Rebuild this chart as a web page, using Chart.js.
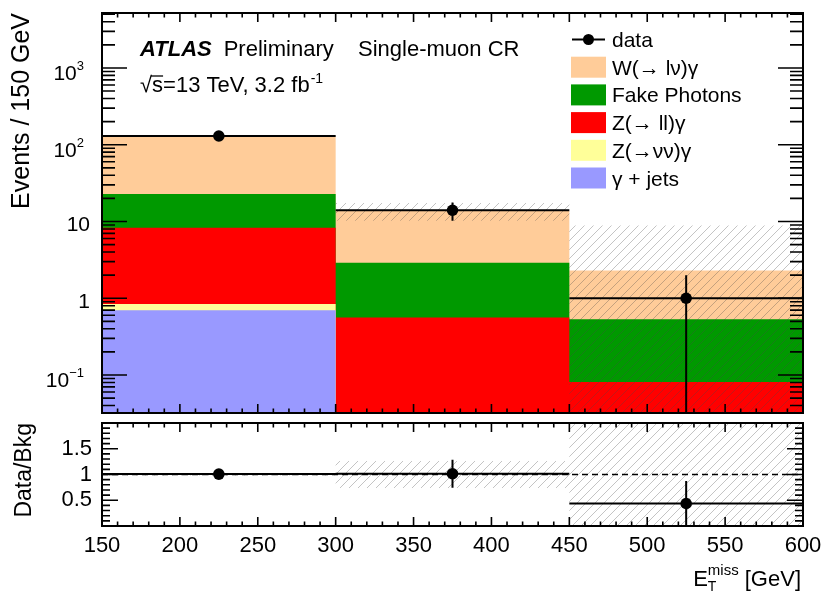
<!DOCTYPE html>
<html>
<head>
<meta charset="utf-8">
<title>Single-muon CR — missing transverse energy</title>
<script src="https://cdn.jsdelivr.net/npm/chart.js@4.4.0/dist/chart.umd.min.js"></script>
<style>
  html, body { margin: 0; padding: 0; background: #fff; }
  #wrap { position: relative; width: 822px; height: 592px; }
  #wrap canvas { position: absolute; left: 0; top: 0; }
</style>
</head>
<body>
<div id="wrap">
  <canvas id="main" width="822" height="592"></canvas>
  <canvas id="ratio" width="822" height="592"></canvas>
</div>
<script>
// ---- binning and tick labels -------------------------------------------
const binEdges = [150, 300, 450, 600];
const xTickValues = [150, 200, 250, 300, 350, 400, 450, 500, 550, 600];
const xTickLabels = ['150', '200', '250', '300', '350', '400', '450', '500', '550', '600'];
const logTickValues = [0.1, 1, 10, 100, 1000];
const logTickLabels = ['10^−1', '1', '10', '10^2', '10^3'];
const ratioTickValues = [0.5, 1, 1.5];
const ratioTickLabels = ['0.5', '1', '1.5'];

// ---- background components (events per bin) ----------------------------
const gammaJets   = [0.70, 0.004, 0.002];
const zNuNuGamma  = [0.14, 0.006, 0.003];
const zLLGamma    = [7.46, 0.55, 0.076];
const fakePhotons = [14.5, 2.34, 0.45];
const wLnuGamma   = [106.2, 10.9, 1.76];

// total background uncertainty per bin (absolute)
const bkgUncertainty = [2.5, 3.6, 6.6];

// ---- observed data ------------------------------------------------------
const dataCounts = [130, 14, 1];
const dataErrors = [11.4, 3.74, 1.0];

// ---- axis ranges --------------------------------------------------------
const yMin = 0.032, yMax = 5200;
const ratioMin = 0, ratioMax = 2;

// ---- styling -------------------------------------------------------------
const FONT = '"Liberation Sans", Arial, Helvetica, sans-serif';
const fnt = (size, style) => (style ? style + ' ' : '') + size + 'px ' + FONT;
Chart.defaults.font.family = FONT;
Chart.defaults.color = '#000';

const components = [
  { label: 'γ + jets',     values: gammaJets,   color: '#9999ff' },
  { label: 'Z(→νν)γ',      values: zNuNuGamma,  color: '#ffff99' },
  { label: 'Z(→ ll)γ',     values: zLLGamma,    color: '#ff0000' },
  { label: 'Fake Photons', values: fakePhotons, color: '#009900' },
  { label: 'W(→ lν)γ',     values: wLnuGamma,   color: '#ffcc99' }
];

// ---- derived series -----------------------------------------------------
const centers = binEdges.slice(0, -1).map((e, i) => (e + binEdges[i + 1]) / 2);
let running = binEdges.slice(0, -1).map(() => 0);
const cumulative = components.map(c => {
  running = running.map((r, i) => r + c.values[i]);
  return running.slice();
});
const totalBkg = running.slice();

function stepSeries(vals) {
  const pts = vals.map((v, i) => ({ x: binEdges[i], y: v }));
  pts.push({ x: binEdges[binEdges.length - 1], y: vals[vals.length - 1] });
  return pts;
}
function hSegments(ys) {
  const pts = [];
  ys.forEach((y, i) => pts.push({ x: binEdges[i], y }, { x: binEdges[i + 1], y }, { x: binEdges[i + 1], y: null }));
  return pts;
}
function vSegments(lo, hi) {
  const pts = [];
  centers.forEach((c, i) => pts.push({ x: c, y: lo[i] }, { x: c, y: hi[i] }, { x: c, y: null }));
  return pts;
}

function hatchPattern(ctx) {
  const s = 9;
  const tile = document.createElement('canvas');
  tile.width = s; tile.height = s;
  const g = tile.getContext('2d');
  g.strokeStyle = 'rgba(70,70,70,0.32)';
  g.lineWidth = 1;
  g.beginPath();
  g.moveTo(0, s); g.lineTo(s, 0);
  g.moveTo(-1, 1); g.lineTo(1, -1);
  g.moveTo(s - 1, s + 1); g.lineTo(s + 1, s - 1);
  g.stroke();
  return ctx.createPattern(tile, 'repeat');
}

// inward ROOT-style tick marks plus the frame
function drawFrame(chart, t) {
  const { ctx, chartArea: a } = chart;
  const sx = chart.scales.x, sy = chart.scales.y;
  ctx.save();
  ctx.strokeStyle = '#000';
  ctx.lineWidth = 1.6;
  ctx.beginPath();
  const xt = (vals, L) => vals.forEach(v => {
    const p = sx.getPixelForValue(v);
    ctx.moveTo(p, a.bottom); ctx.lineTo(p, a.bottom - L);
    ctx.moveTo(p, a.top); ctx.lineTo(p, a.top + L);
  });
  const yt = (vals, L) => vals.forEach(v => {
    const p = sy.getPixelForValue(v);
    if (p < a.top - 0.5 || p > a.bottom + 0.5) return;
    ctx.moveTo(a.left, p); ctx.lineTo(a.left + L, p);
    ctx.moveTo(a.right, p); ctx.lineTo(a.right - L, p);
  });
  xt(t.xMajor, t.xMajorLen); xt(t.xMinor, t.xMinorLen);
  yt(t.yMajor, t.yMajorLen); yt(t.yMinor, t.yMinorLen);
  ctx.stroke();
  ctx.lineWidth = 2;
  ctx.strokeRect(a.left, a.top, a.right - a.left, a.bottom - a.top);
  ctx.restore();
}

const xMinorTicks = [];
for (let v = binEdges[0]; v <= binEdges[binEdges.length - 1]; v += 10) xMinorTicks.push(v);
const logMinorTicks = [];
for (let d = -2; d <= 3; d++) for (let k = 2; k <= 9; k++) logMinorTicks.push(k * Math.pow(10, d));
const ratioMajorTicks = [0, 0.5, 1, 1.5, 2];
const ratioMinorTicks = [];
for (let i = 0; i <= 20; i++) ratioMinorTicks.push(i / 10);

// ---- upper panel ---------------------------------------------------------
const mainCanvas = document.getElementById('main');
const mainCtx = mainCanvas.getContext('2d');
const hatchMain = hatchPattern(mainCtx);

const stackDatasets = components.map((c, k) => ({
  label: c.label,
  data: stepSeries(cumulative[k]),
  stepped: 'before',
  fill: 'start',
  backgroundColor: c.color,
  borderWidth: 0,
  pointRadius: 0,
  order: 10 + k
}));

const bandHi = totalBkg.map((t, i) => t + bkgUncertainty[i]);
const bandLo = totalBkg.map((t, i) => Math.max(t - bkgUncertainty[i], yMin));
const errLo = dataCounts.map((d, i) => Math.max(d - dataErrors[i], yMin));
const errHi = dataCounts.map((d, i) => d + dataErrors[i]);

const mainDecor = {
  id: 'mainDecor',
  afterDraw(chart) {
    const { ctx } = chart;
    const sy = chart.scales.y;
    drawFrame(chart, {
      xMajor: xTickValues, xMajorLen: 9, xMinor: xMinorTicks, xMinorLen: 4.5,
      yMajor: logTickValues, yMajorLen: 25, yMinor: logMinorTicks, yMinorLen: 13
    });
    ctx.save();
    ctx.fillStyle = '#000';
    ctx.textBaseline = 'alphabetic';
    // log-axis labels with raised exponents
    logTickValues.forEach((v, i) => {
      const p = sy.getPixelForValue(v);
      const parts = logTickLabels[i].split('^');
      if (parts.length === 1) {
        ctx.font = fnt(21); ctx.textAlign = 'right';
        ctx.fillText(parts[0], 90, p + 10);
      } else {
        ctx.font = fnt(13); ctx.textAlign = 'right';
        const we = ctx.measureText(parts[1]).width;
        ctx.fillText(parts[1], 84, p + 2);
        ctx.font = fnt(21);
        ctx.fillText(parts[0], 84 - we, p + 12);
      }
    });
    // experiment label
    ctx.textAlign = 'left';
    ctx.font = fnt(22, 'italic bold');
    ctx.fillText('ATLAS', 140, 56);
    const wA = ctx.measureText('ATLAS').width;
    ctx.font = fnt(22);
    ctx.fillText('Preliminary', 140 + wA + 12, 56);
    ctx.fillText('Single-muon CR', 358, 56);
    // centre-of-mass energy and luminosity
    let x = 140;
    const base = 92;
    ctx.font = fnt(22);
    ctx.fillText('√', x, base);
    x += ctx.measureText('√').width;
    const ws = ctx.measureText('s').width;
    ctx.fillText('s', x, base);
    ctx.lineWidth = 1.3;
    ctx.beginPath(); ctx.moveTo(x - 1, base - 16); ctx.lineTo(x + ws, base - 16); ctx.stroke();
    x += ws;
    const mainTxt = '=13 TeV, 3.2 fb';
    ctx.fillText(mainTxt, x, base);
    x += ctx.measureText(mainTxt).width;
    ctx.font = fnt(14);
    ctx.fillText('-1', x + 1, base - 9);
    // legend
    const lx = 571, lw = 35, lh = 21, tx = 612;
    const rows = [{ label: 'data' }].concat(components.slice().reverse());
    rows.forEach((r, i) => {
      const cy = 39.5 + i * 27.7;
      if (!r.color) {
        ctx.lineWidth = 2;
        ctx.beginPath(); ctx.moveTo(lx + 1, cy); ctx.lineTo(lx + lw - 1, cy); ctx.stroke();
        ctx.beginPath(); ctx.arc(lx + lw / 2, cy, 5.5, 0, Math.PI * 2); ctx.fill();
      } else {
        ctx.fillStyle = r.color;
        ctx.fillRect(lx, cy - lh / 2, lw, lh);
        ctx.fillStyle = '#000';
      }
      ctx.font = fnt(21);
      ctx.fillText(r.label, tx, cy + 7.5);
    });
    ctx.restore();
  }
};

new Chart(mainCanvas, {
  type: 'line',
  data: {
    datasets: stackDatasets.concat([
      { label: 'bkg unc. up', data: stepSeries(bandHi), stepped: 'before', fill: '+1',
        backgroundColor: hatchMain, borderWidth: 0, pointRadius: 0, order: 3 },
      { label: 'bkg unc. down', data: stepSeries(bandLo), stepped: 'before', fill: false,
        borderWidth: 0, pointRadius: 0, order: 4 },
      { label: 'data x', data: hSegments(dataCounts), borderColor: '#000', borderWidth: 2,
        pointRadius: 0, spanGaps: false, fill: false, order: 1 },
      { label: 'data y', data: vSegments(errLo, errHi), borderColor: '#000', borderWidth: 2,
        pointRadius: 0, spanGaps: false, fill: false, order: 1 },
      { label: 'data', data: dataCounts.map((d, i) => ({ x: centers[i], y: d })), showLine: false,
        pointRadius: 5.8, pointBackgroundColor: '#000', pointBorderWidth: 0, order: 0 }
    ])
  },
  options: {
    responsive: false,
    animation: false,
    events: [],
    layout: { padding: { left: 0, top: 13, right: 19, bottom: 179 } },
    plugins: { legend: { display: false }, tooltip: { enabled: false } },
    elements: { line: { tension: 0 } },
    scales: {
      x: { type: 'linear', min: binEdges[0], max: binEdges[binEdges.length - 1], display: false },
      y: {
        type: 'logarithmic', min: yMin, max: yMax,
        grid: { display: false, drawTicks: false }, border: { display: false },
        ticks: { display: false },
        title: { display: true, text: 'Events / 150 GeV', align: 'end', color: '#000',
                 font: { size: 25 }, padding: { top: 7, bottom: 0 } },
        afterFit(s) { s.width = 102; }
      }
    }
  },
  plugins: [mainDecor]
});

// ---- ratio panel -----------------------------------------------------------
const ratioCanvas = document.getElementById('ratio');
const ratioCtx = ratioCanvas.getContext('2d');
const hatchRatio = hatchPattern(ratioCtx);

const ratioVals = dataCounts.map((d, i) => d / totalBkg[i]);
const ratioLo = dataErrors.map((e, i) => Math.max(ratioVals[i] - e / totalBkg[i], ratioMin));
const ratioHi = dataErrors.map((e, i) => ratioVals[i] + e / totalBkg[i]);
const relHi = bkgUncertainty.map((u, i) => 1 + u / totalBkg[i]);
const relLo = bkgUncertainty.map((u, i) => Math.max(1 - u / totalBkg[i], ratioMin));

const ratioDecor = {
  id: 'ratioDecor',
  afterDraw(chart) {
    const { ctx, chartArea: a } = chart;
    drawFrame(chart, {
      xMajor: xTickValues, xMajorLen: 9, xMinor: xMinorTicks, xMinorLen: 4.5,
      yMajor: ratioMajorTicks, yMajorLen: 16, yMinor: ratioMinorTicks, yMinorLen: 8
    });
    // axis title E_T^miss [GeV], right-aligned to the frame
    ctx.save();
    ctx.fillStyle = '#000';
    ctx.textAlign = 'left';
    ctx.textBaseline = 'alphabetic';
    ctx.font = fnt(22); const wE = ctx.measureText('E').width;
    const rest = ' [GeV]'; const wR = ctx.measureText(rest).width;
    ctx.font = fnt(15); const wS = ctx.measureText('miss').width;
    const x0 = a.right - (wE + wS + wR) - 2;
    const base = 586;
    ctx.font = fnt(22); ctx.fillText('E', x0, base);
    ctx.font = fnt(15); ctx.fillText('miss', x0 + wE, base - 11);
    ctx.font = fnt(14); ctx.fillText('T', x0 + wE, base + 5);
    ctx.font = fnt(22); ctx.fillText(rest, x0 + wE + wS, base);
    ctx.restore();
  }
};

new Chart(ratioCanvas, {
  type: 'line',
  data: {
    datasets: [
      { label: 'rel. unc. up', data: stepSeries(relHi), stepped: 'before', fill: '+1',
        backgroundColor: hatchRatio, borderWidth: 0, pointRadius: 0, order: 4 },
      { label: 'rel. unc. down', data: stepSeries(relLo), stepped: 'before', fill: false,
        borderWidth: 0, pointRadius: 0, order: 5 },
      { label: 'unity', data: [{ x: binEdges[0], y: 1 }, { x: binEdges[binEdges.length - 1], y: 1 }],
        borderColor: '#000', borderWidth: 1.5, borderDash: [6, 4], pointRadius: 0, fill: false, order: 2 },
      { label: 'ratio x', data: hSegments(ratioVals), borderColor: '#000', borderWidth: 2,
        pointRadius: 0, spanGaps: false, fill: false, order: 1 },
      { label: 'ratio y', data: vSegments(ratioLo, ratioHi), borderColor: '#000', borderWidth: 2,
        pointRadius: 0, spanGaps: false, fill: false, order: 1 },
      { label: 'ratio', data: ratioVals.map((r, i) => ({ x: centers[i], y: r })), showLine: false,
        pointRadius: 5.8, pointBackgroundColor: '#000', pointBorderWidth: 0, order: 0 }
    ]
  },
  options: {
    responsive: false,
    animation: false,
    events: [],
    layout: { padding: { left: 0, top: 423, right: 19, bottom: 0 } },
    plugins: { legend: { display: false }, tooltip: { enabled: false } },
    elements: { line: { tension: 0 } },
    scales: {
      x: {
        type: 'linear', min: binEdges[0], max: binEdges[binEdges.length - 1],
        grid: { display: false, drawTicks: false }, border: { display: false },
        ticks: { autoSkip: false, maxRotation: 0, padding: 7, color: '#000', font: { size: 22 },
                 callback: (v, i) => xTickLabels[i] },
        afterBuildTicks(s) { s.ticks = xTickValues.map(v => ({ value: v })); },
        afterFit(s) { s.height = 66; s.paddingLeft = 0; s.paddingRight = 0; }
      },
      y: {
        type: 'linear', min: ratioMin, max: ratioMax,
        grid: { display: false, drawTicks: false }, border: { display: false },
        ticks: { padding: 10, color: '#000', font: { size: 22 },
                 callback: (v, i) => ratioTickLabels[i] },
        afterBuildTicks(s) { s.ticks = ratioTickValues.map(v => ({ value: v })); },
        title: { display: true, text: 'Data/Bkg', align: 'end', color: '#000',
                 font: { size: 23 }, padding: { top: 11, bottom: 0 } },
        afterFit(s) { s.width = 102; }
      }
    }
  },
  plugins: [ratioDecor]
});
</script>
</body>
</html>
